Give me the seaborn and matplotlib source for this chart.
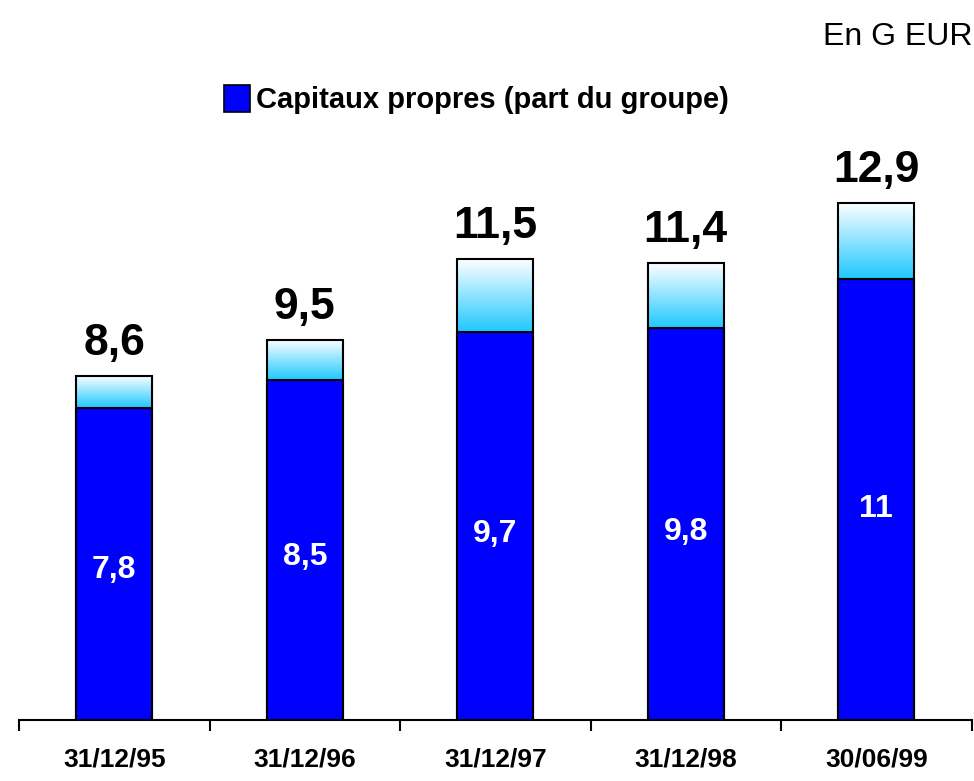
import matplotlib
matplotlib.use('Agg')
import matplotlib.pyplot as plt
import seaborn as sns
import numpy as np
import pandas as pd
from matplotlib.patches import Patch
from matplotlib.colors import LinearSegmentedColormap

# données (en G EUR)
dates = ['31/12/95', '31/12/96', '31/12/97', '31/12/98', '30/06/99']
capitaux = [7.8, 8.5, 9.7, 9.8, 11.0]
totaux = [8.6, 9.5, 11.5, 11.4, 12.9]
labels_cap = ['7,8', '8,5', '9,7', '9,8', '11']
labels_tot = ['8,6', '9,5', '11,5', '11,4', '12,9']

sns.set_style('white')
narrow = ['Liberation Sans Narrow', 'Liberation Sans', 'DejaVu Sans']
wide = ['Liberation Sans', 'DejaVu Sans']
plt.rcParams['font.family'] = narrow
plt.rcParams['text.color'] = 'black'
plt.rcParams['xtick.color'] = 'black'
plt.rcParams['xtick.labelcolor'] = 'black'

df = pd.DataFrame({'date': dates, 'capitaux': capitaux, 'total': totaux})

fig = plt.figure(figsize=(9.74, 7.81), dpi=100)
ax = fig.add_axes([0.0195, 0.078, 0.978, 0.718])

# barres totales (contour seulement, remplies d'un dégradé)
sns.barplot(data=df, x='date', y='total', ax=ax, facecolor='none',
            edgecolor='black', linewidth=1.5, width=0.4, zorder=2)
tot_patches = list(ax.patches)

cmap = LinearSegmentedColormap.from_list('grad', ['#1ec8ff', '#ffffff'])
grad = np.linspace(0, 1, 256).reshape(-1, 1)
for p, b in zip(tot_patches, capitaux):
    x0 = p.get_x()
    x1 = x0 + p.get_width()
    ax.imshow(grad, cmap=cmap, origin='lower', aspect='auto',
              extent=[x0, x1, b, p.get_height()], zorder=1)

# capitaux propres (part du groupe)
sns.barplot(data=df, x='date', y='capitaux', ax=ax, color='#0000ff',
            saturation=1, edgecolor='black', linewidth=1.5, width=0.4, zorder=3)

for i, (c, t) in enumerate(zip(capitaux, totaux)):
    ax.text(i, t + 0.3, labels_tot[i], ha='center', va='bottom',
            fontsize=32, fontweight='bold', family=wide, color='black')
    ax.text(i, c * 0.48, labels_cap[i], ha='center', va='center',
            fontsize=23, fontweight='bold', color='white')

ax.set_xlim(-0.5, 4.5)
ax.set_ylim(0, 14)
ax.set_xlabel('')
ax.set_ylabel('')
ax.set_yticks([])
sns.despine(ax=ax, left=True, top=True, right=True)
ax.spines['bottom'].set_linewidth(1.5)
ax.spines['bottom'].set_color('black')

ax.set_xticks(range(len(dates)))
ax.set_xticklabels(dates, fontsize=19, fontweight='bold', color='black')
ax.tick_params(axis='x', which='major', length=0, pad=20)
ax.set_xticks([i - 0.5 for i in range(len(dates) + 1)], minor=True)
ax.tick_params(axis='x', which='minor', length=8, width=1.5,
               direction='out', color='black', bottom=True)

leg = fig.legend(handles=[Patch(facecolor='#0000ff', edgecolor='black', linewidth=1.2)],
                 labels=['Capitaux propres (part du groupe)'],
                 loc='center', bbox_to_anchor=(0.489, 0.872), frameon=False,
                 handlelength=0.9, handleheight=1.0, handletextpad=0.2,
                 prop={'size': 21, 'weight': 'bold', 'family': narrow})
for t in leg.get_texts():
    t.set_color('black')

fig.text(0.998, 0.953, 'En G EUR', ha='right', va='center', fontsize=23,
         family=wide, color='black')

fig.savefig('out.png', dpi=100)
